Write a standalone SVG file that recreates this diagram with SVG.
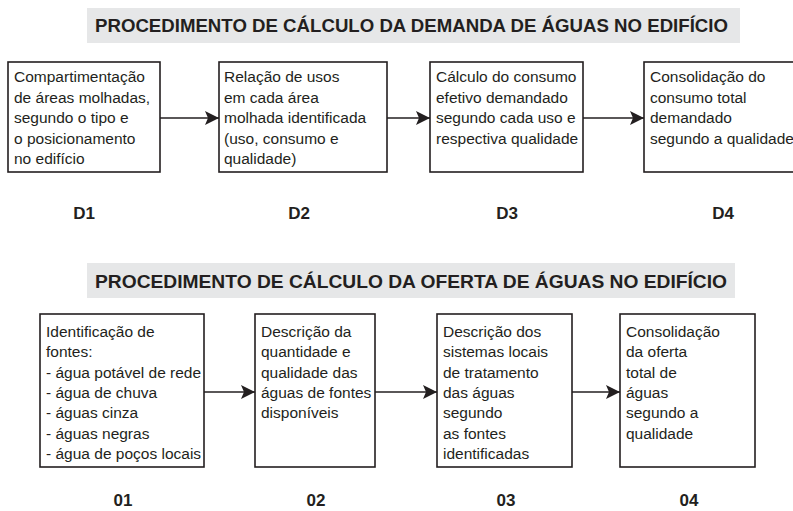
<svg xmlns="http://www.w3.org/2000/svg" width="793" height="511" viewBox="0 0 793 511">
<defs>
<style>
.band{fill:#e6e7e8}
.title{font-family:"Liberation Sans",Arial,sans-serif;font-weight:bold;font-size:19px;fill:#231f20}
.box{fill:#fff;stroke:#231f20;stroke-width:1.6}
.t{font-family:"Liberation Sans",Arial,sans-serif;font-size:15.5px;fill:#231f20}
.lbl{font-family:"Liberation Sans",Arial,sans-serif;font-weight:bold;font-size:17px;fill:#231f20;text-anchor:middle}
.conn{stroke:#231f20;stroke-width:1.6;fill:none;marker-end:url(#ah)}
</style>
<marker id="ah" viewBox="0 0 14 14" refX="14" refY="7" markerWidth="14" markerHeight="14" markerUnits="userSpaceOnUse" orient="auto">
<path d="M0,0 L14,7 L0,14 L3,7 Z" fill="#231f20"/>
</marker>
</defs>
<rect width="793" height="511" fill="#fff"/>

<g id="title-demanda">
<rect class="band" x="87" y="8" width="653" height="35"/>
<text class="title" x="95" y="32" textLength="633" lengthAdjust="spacingAndGlyphs">PROCEDIMENTO DE CÁLCULO DA DEMANDA DE ÁGUAS NO EDIFÍCIO</text>
</g>

<g id="connectors">
<line class="conn" x1="160" y1="118" x2="219" y2="118"/>
<line class="conn" x1="387" y1="118" x2="430" y2="118"/>
<line class="conn" x1="583" y1="118" x2="644" y2="118"/>
<line class="conn" x1="204" y1="392" x2="255" y2="392"/>
<line class="conn" x1="375" y1="392" x2="437" y2="392"/>
<line class="conn" x1="572" y1="392" x2="620" y2="392"/>
</g>

<g id="D1">
<rect class="box" x="8" y="62" width="152" height="110"/>
<text class="t" x="14"><tspan x="14" y="82">Compartimentação</tspan><tspan x="14" y="102.5">de áreas molhadas,</tspan><tspan x="14" y="123">segundo o tipo e</tspan><tspan x="14" y="143.5">o posicionamento</tspan><tspan x="14" y="164">no edifício</tspan></text>
<text class="lbl" x="84" y="219">D1</text>
</g>
<g id="D2">
<rect class="box" x="219" y="62" width="168" height="110"/>
<text class="t"><tspan x="224" y="82">Relação de usos</tspan><tspan x="224" y="102.5">em cada área</tspan><tspan x="224" y="123">molhada identificada</tspan><tspan x="224" y="143.5">(uso, consumo e</tspan><tspan x="224" y="164">qualidade)</tspan></text>
<text class="lbl" x="299" y="219">D2</text>
</g>
<g id="D3">
<rect class="box" x="430" y="62" width="153" height="110"/>
<text class="t"><tspan x="436" y="82">Cálculo do consumo</tspan><tspan x="436" y="102.5">efetivo demandado</tspan><tspan x="436" y="123">segundo cada uso e</tspan><tspan x="436" y="143.5">respectiva qualidade</tspan></text>
<text class="lbl" x="507" y="219">D3</text>
</g>
<g id="D4">
<rect class="box" x="644" y="62" width="160" height="110"/>
<text class="t"><tspan x="650" y="82">Consolidação do</tspan><tspan x="650" y="102.5">consumo total</tspan><tspan x="650" y="123">demandado</tspan><tspan x="650" y="143.5">segundo a qualidade</tspan></text>
<text class="lbl" x="723" y="219">D4</text>
</g>

<g id="title-oferta">
<rect class="band" x="87" y="263" width="648" height="35"/>
<text class="title" x="95" y="288" textLength="632" lengthAdjust="spacingAndGlyphs">PROCEDIMENTO DE CÁLCULO DA OFERTA DE ÁGUAS NO EDIFÍCIO</text>
</g>

<g id="O1">
<rect class="box" x="40" y="314" width="164" height="153"/>
<text class="t"><tspan x="46" y="337">Identificação de</tspan><tspan x="46" y="357.3">fontes:</tspan><tspan x="46" y="377.6">- água potável de rede</tspan><tspan x="46" y="397.9">- água de chuva</tspan><tspan x="46" y="418.2">- águas cinza</tspan><tspan x="46" y="438.5">- águas negras</tspan><tspan x="46" y="458.8">- água de poços locais</tspan></text>
<text class="lbl" x="123" y="506">01</text>
</g>
<g id="O2">
<rect class="box" x="255" y="314" width="120" height="153"/>
<text class="t"><tspan x="261" y="337">Descrição da</tspan><tspan x="261" y="357.3">quantidade e</tspan><tspan x="261" y="377.6">qualidade das</tspan><tspan x="261" y="397.9">águas de fontes</tspan><tspan x="261" y="418.2">disponíveis</tspan></text>
<text class="lbl" x="316" y="506">02</text>
</g>
<g id="O3">
<rect class="box" x="437" y="314" width="135" height="153"/>
<text class="t"><tspan x="443" y="337">Descrição dos</tspan><tspan x="443" y="357.3">sistemas locais</tspan><tspan x="443" y="377.6">de tratamento</tspan><tspan x="443" y="397.9">das águas</tspan><tspan x="443" y="418.2">segundo</tspan><tspan x="443" y="438.5">as fontes</tspan><tspan x="443" y="458.8">identificadas</tspan></text>
<text class="lbl" x="506" y="506">03</text>
</g>
<g id="O4">
<rect class="box" x="620" y="314" width="135" height="153"/>
<text class="t"><tspan x="626" y="337">Consolidação</tspan><tspan x="626" y="357.3">da oferta</tspan><tspan x="626" y="377.6">total de</tspan><tspan x="626" y="397.9">águas</tspan><tspan x="626" y="418.2">segundo a</tspan><tspan x="626" y="438.5">qualidade</tspan></text>
<text class="lbl" x="689" y="506">04</text>
</g>
</svg>
